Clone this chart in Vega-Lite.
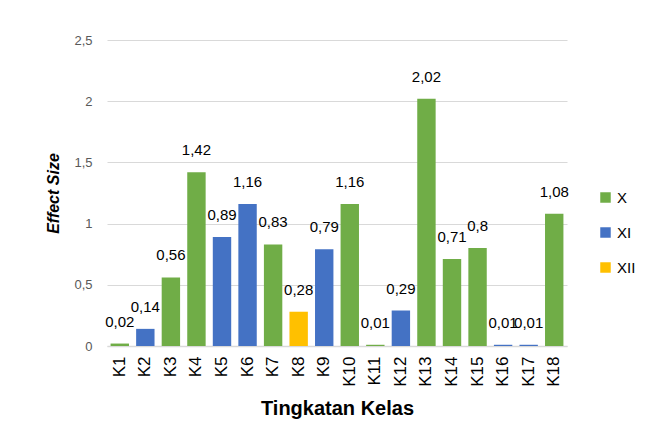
{
  "$schema": "https://vega.github.io/schema/vega-lite/v6.json",
  "autosize": "none",
  "width": 460,
  "height": 306,
  "padding": {"left": 107, "top": 40, "right": 98, "bottom": 102},
  "background": "white",
  "config": {
    "font": "Liberation Sans",
    "view": {"stroke": null},
    "locale": {"number": {"decimal": ",", "thousands": ".", "grouping": [3], "currency": ["", ""]}}
  },
  "data": {
    "values": [
      {"k": "K1", "v": 0.02, "kelas": "X"},
      {"k": "K2", "v": 0.14, "kelas": "XI"},
      {"k": "K3", "v": 0.56, "kelas": "X"},
      {"k": "K4", "v": 1.42, "kelas": "X"},
      {"k": "K5", "v": 0.89, "kelas": "XI"},
      {"k": "K6", "v": 1.16, "kelas": "XI"},
      {"k": "K7", "v": 0.83, "kelas": "X"},
      {"k": "K8", "v": 0.28, "kelas": "XII"},
      {"k": "K9", "v": 0.79, "kelas": "XI"},
      {"k": "K10", "v": 1.16, "kelas": "X"},
      {"k": "K11", "v": 0.01, "kelas": "X"},
      {"k": "K12", "v": 0.29, "kelas": "XI"},
      {"k": "K13", "v": 2.02, "kelas": "X"},
      {"k": "K14", "v": 0.71, "kelas": "X"},
      {"k": "K15", "v": 0.8, "kelas": "X"},
      {"k": "K16", "v": 0.01, "kelas": "XI"},
      {"k": "K17", "v": 0.01, "kelas": "XI"},
      {"k": "K18", "v": 1.08, "kelas": "X"}
    ]
  },
  "encoding": {
    "x": {
      "field": "k", "type": "nominal", "sort": null,
      "scale": {"paddingInner": 0.28, "paddingOuter": 0.14},
      "axis": {
        "title": "Tingkatan Kelas", "titleFontSize": 20, "titleFontWeight": "bold", "titleColor": "#000000", "titlePadding": 12,
        "labelAngle": -90, "labelFontSize": 17, "labelColor": "#000000", "labelPadding": 10,
        "ticks": false, "domainColor": "#d9d9d9", "domainWidth": 1.5, "grid": false
      }
    },
    "y": {
      "field": "v", "type": "quantitative",
      "scale": {"domain": [0, 2.5]},
      "axis": {
        "title": "Effect Size", "titleFontSize": 16, "titleFontWeight": "bold", "titleFontStyle": "italic", "titleColor": "#000000", "titlePadding": 12,
        "values": [0, 0.5, 1, 1.5, 2, 2.5], "format": "~g",
        "labelFontSize": 13, "labelColor": "#595959", "labelPadding": 15,
        "ticks": false, "domain": false, "gridColor": "#d9d9d9", "gridWidth": 1.2
      }
    }
  },
  "layer": [
    {
      "mark": {"type": "bar"},
      "encoding": {
        "color": {
          "field": "kelas", "type": "nominal",
          "scale": {"domain": ["X", "XI", "XII"], "range": ["#70AD47", "#4472C4", "#FFC000"]},
          "legend": {
            "title": null, "orient": "none", "legendX": 491, "legendY": 150,
            "symbolType": "square", "symbolSize": 110, "symbolStrokeWidth": 0,
            "labelFontSize": 15, "labelColor": "#000000", "rowPadding": 19, "labelOffset": 4
          }
        }
      }
    },
    {
      "mark": {"type": "text", "baseline": "middle", "dy": -22, "fontSize": 15, "color": "#000000"},
      "encoding": {
        "text": {"field": "v", "type": "quantitative", "format": "~g"}
      }
    }
  ]
}
